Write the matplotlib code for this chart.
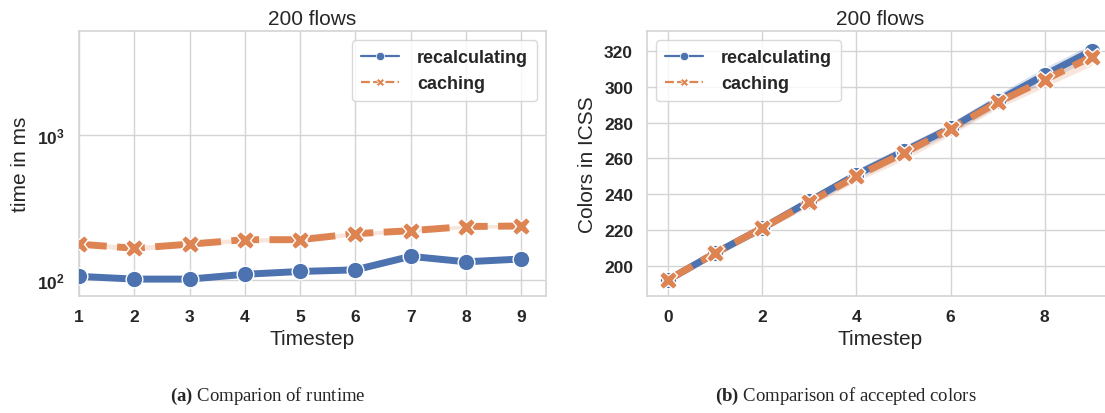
import numpy as np
import matplotlib
matplotlib.use("Agg")
import matplotlib.pyplot as plt
import seaborn as sns
from matplotlib.lines import Line2D

# runtime per timestep (ms), 200 flows
steps_rt = [1, 2, 3, 4, 5, 6, 7, 8, 9]
recalc_rt = [105.5, 101, 101, 109, 114, 117, 145, 133, 139]
recalc_rt_lo = [102, 97, 97, 105, 110, 112, 139, 128, 134]
recalc_rt_hi = [109, 105, 105, 113, 118, 122, 151, 138, 144]
cache_rt = [176, 165, 176, 189, 189, 208, 218, 233, 235]
cache_rt_lo = [170, 158, 170, 182, 183, 201, 212, 226, 229]
cache_rt_hi = [182, 172, 182, 195, 195, 215, 224, 240, 241]

# accepted colors per timestep
steps_col = [0, 1, 2, 3, 4, 5, 6, 7, 8, 9]
recalc_col = [192, 207, 221, 236, 251, 264, 277, 292.4, 306.8, 320.4]
recalc_col_lo = [190, 205, 219, 234, 248, 261, 274, 289, 303, 316]
recalc_col_hi = [194, 209, 223, 238, 254, 267, 280, 296, 311, 324]
cache_col = [192, 207, 221, 235.5, 250, 263, 276.5, 291.5, 304, 317]
cache_col_lo = [190, 205, 219, 233, 247, 259, 273, 288, 300, 312]
cache_col_hi = [194, 209, 223, 239, 253, 266, 280, 295, 308, 322]

sns.set_theme(style="whitegrid")
plt.rcParams['font.family'] = ['Liberation Sans', 'DejaVu Sans']
plt.rcParams['mathtext.fontset'] = 'custom'
plt.rcParams['mathtext.rm'] = 'Liberation Serif'
plt.rcParams['mathtext.bf'] = 'Liberation Serif:bold'

blue = "#4C72B0"
orange = "#DD8452"
grid_c = "#d4d4d4"
text_c = "#262626"

fig = plt.figure(figsize=(11.05, 4.14), dpi=100)
ax1 = fig.add_axes([0.0715, 0.2838, 0.4226, 0.638])
ax2 = fig.add_axes([0.5855, 0.2838, 0.4217, 0.638])


def draw(ax, x, y1, lo1, hi1, y2, lo2, hi2, msize):
    ax.fill_between(x, lo1, hi1, color=blue, alpha=0.2, lw=0)
    ax.plot(x, y1, color=blue, lw=5, marker='o', ms=msize,
            mec='white', mew=1, zorder=3)
    ax.fill_between(x, lo2, hi2, color=orange, alpha=0.2, lw=0)
    ax.plot(x, y2, color=orange, lw=5, dashes=(4, 1.5), marker='X',
            ms=msize + 1, mec='white', mew=1, zorder=4)


def style(ax, xlabel, ylabel, loc):
    ax.set_title("200 flows", fontsize=15, color=text_c, pad=5)
    ax.set_xlabel(xlabel, fontsize=15, color=text_c, labelpad=3)
    ax.set_ylabel(ylabel, fontsize=15, color=text_c, labelpad=5)
    ax.grid(True, color=grid_c, lw=1)
    ax.grid(False, which='minor')
    for s in ax.spines.values():
        s.set_color(grid_c)
        s.set_linewidth(1.2)
    ax.tick_params(axis='both', which='major', labelsize=12.5, pad=4,
                   labelcolor=text_c)
    for lab in ax.get_xticklabels() + ax.get_yticklabels():
        lab.set_fontweight('bold')
    handles = [
        Line2D([], [], color=blue, lw=1.6, marker='o', ms=6, mec='white', mew=0.5),
        Line2D([], [], color=orange, lw=1.6, dashes=(4, 1.5), marker='X', ms=6,
               mec='white', mew=0.5),
    ]
    leg = ax.legend(handles, ["recalculating", "caching"], loc=loc,
                    prop={'weight': 'bold', 'size': 13}, frameon=True,
                    handlelength=2.1, handletextpad=1.0,
                    labelspacing=0.5, borderpad=0.5)
    for t in leg.get_texts():
        t.set_color(text_c)
    leg.get_frame().set_edgecolor("#d0d0d0")


# runtime panel
draw(ax1, steps_rt, recalc_rt, recalc_rt_lo, recalc_rt_hi,
     cache_rt, cache_rt_lo, cache_rt_hi, 12)
ax1.set_yscale('log')
ax1.set_ylim(77.8, 5190)
ax1.set_xlim(1, 9.45)
ax1.set_xticks(steps_rt)
ax1.yaxis.set_minor_locator(matplotlib.ticker.NullLocator())
style(ax1, "Timestep", "time in ms", 'upper right')

# accepted colors panel
draw(ax2, steps_col, recalc_col, recalc_col_lo, recalc_col_hi,
     cache_col, cache_col_lo, cache_col_hi, 12)
ax2.set_ylim(183.2, 331.2)
ax2.set_xlim(-0.45, 9.45)
ax2.set_xticks([0, 2, 4, 6, 8])
ax2.set_yticks([200, 220, 240, 260, 280, 300, 320])
style(ax2, "Timestep", "Colors in ICSS", 'upper left')

# sub-captions
fig.text(268 / 1105, 1 - 396 / 414, r"$\mathbf{(a)}$ Comparion of runtime",
         ha='center', va='center', fontsize=13.5, family='Liberation Serif')
fig.text(846 / 1105, 1 - 396 / 414, r"$\mathbf{(b)}$ Comparison of accepted colors",
         ha='center', va='center', fontsize=13.5, family='Liberation Serif')

fig.savefig("out.png", dpi=100)
